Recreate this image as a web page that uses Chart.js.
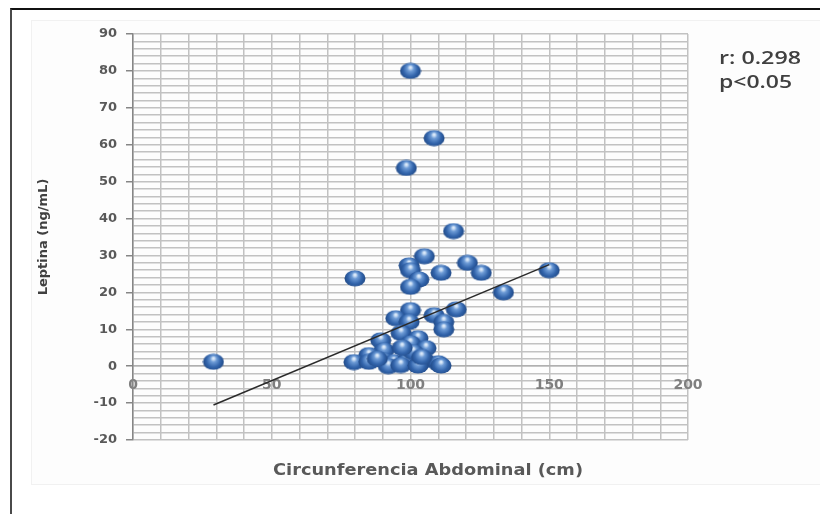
<!DOCTYPE html>
<html>
<head>
<meta charset="utf-8">
<title>Leptina vs circunferencia abdominal</title>
<script src="https://cdn.jsdelivr.net/npm/chart.js@4.4.1/dist/chart.umd.min.js"></script>
<style>
    html, body { margin: 0; padding: 0; background: #fff; }
    #wrap { position: relative; width: 820px; height: 514px; overflow: hidden; }
    #frame { position: absolute; left: 10px; top: 8px; width: 830px; height: 540px;
             border-left: 2px solid #4a4a4a; border-top: 2px solid #111; }
    #panel { position: absolute; left: 31px; top: 20px; width: 800px; height: 463px;
             background: #fdfdfd; border: 1px solid #f1f1f1; }
    #chart { position: absolute; left: 0; top: 0; }
</style>
</head>
<body>
<div id="wrap">
    <div id="frame"></div>
    <div id="panel"></div>
    <canvas id="chart" width="820" height="514"></canvas>
</div>
<script>
// Circunferencia abdominal (cm) and leptina (ng/mL), one pair per patient
const circAbdominal = [29, 100, 108.5, 98.5, 115.5, 105, 99.5, 100, 80, 120.5,
                       111, 125.5, 150, 103, 100, 133.5, 100, 116.5, 94.7, 99.5,
                       108.5, 112, 112, 96.6, 89.3, 102.7, 100, 105.6, 90.4, 85,
                       79.6, 85, 90.4, 94, 99, 105, 110, 92, 96.5, 102.7,
                       111, 101, 97, 104, 88];
const leptina = [1.2, 80, 61.8, 53.7, 36.6, 29.8, 27.3, 26, 23.8, 28,
                 25.3, 25.3, 26, 23.5, 21.5, 20, 15.2, 15.4, 13, 12,
                 13.8, 12, 10, 9, 7, 7.6, 6.2, 4.9, 4.3, 3,
                 1.1, 1.2, 1.6, 1.1, 1.8, 1.6, 0.8, 0, 0.3, 0.2,
                 0.2, 3.8, 5, 2.5, 2];

// linear trend line, end points
const trendX = [29, 150];
const trendY = [-10.5, 27.5];

// axes
const xMin = 0, xMax = 200, xStep = 10, xLabelEvery = 50;
const yMin = -20, yMax = 90, yStep = 2, yLabelEvery = 10;

const corrText = ["r: 0.298", "p<0.05"];

// blue "3D" bubble used as point style
function makeBubble() {
    const c = document.createElement("canvas");
    c.width = 22; c.height = 17;
    const g = c.getContext("2d");
    const grad = g.createRadialGradient(11, 5, 1, 11, 8.5, 12);
    grad.addColorStop(0, "#d9e8f9");
    grad.addColorStop(0.2, "#6d9bd6");
    grad.addColorStop(0.55, "#3264ab");
    grad.addColorStop(1, "#1a3f77");
    g.fillStyle = grad;
    g.beginPath();
    g.ellipse(11, 8.5, 10.5, 8, 0, 0, Math.PI * 2);
    g.fill();
    return c;
}

// text squeezed/stretched to a given width
function drawFitText(ctx, text, x, y, width, font, color, align) {
    ctx.save();
    ctx.font = font;
    ctx.fillStyle = color;
    ctx.textBaseline = "middle";
    ctx.textAlign = "left";
    const w = ctx.measureText(text).width;
    const left = align === "center" ? x - width / 2 : x;
    ctx.translate(left, y);
    ctx.scale(width / w, 1);
    ctx.fillText(text, 0, 0);
    ctx.restore();
}

const extraText = {
    id: "extraText",
    afterDraw(chart) {
        const ctx = chart.ctx;
        drawFitText(ctx, "Circunferencia Abdominal (cm)", 428, 471, 310,
            "bold 15px 'DejaVu Sans'", "#595959", "center");
        drawFitText(ctx, corrText[0], 719, 59, 82, "600 18px 'Open Sans'", "#404040", "left");
        drawFitText(ctx, corrText[1], 719, 83, 73, "600 18px 'Open Sans'", "#404040", "left");
    }
};

const points = circAbdominal.map((x, i) => ({ x: x, y: leptina[i] }));
const trend = trendX.map((x, i) => ({ x: x, y: trendY[i] }));

const ctx = document.getElementById("chart").getContext("2d");
new Chart(ctx, {
    type: "scatter",
    data: {
        datasets: [
            {
                type: "line",
                label: "Tendencia",
                data: trend,
                borderColor: "#2b2b2b",
                borderWidth: 1.5,
                pointRadius: 0,
                fill: false
            },
            {
                label: "Leptina",
                data: points,
                pointStyle: makeBubble(),
                pointRadius: 8
            }
        ]
    },
    options: {
        responsive: false,
        animation: false,
        layout: { padding: { left: 30, right: 132, top: 34, bottom: 74 } },
        plugins: {
            legend: { display: false },
            tooltip: { enabled: false }
        },
        scales: {
            x: {
                type: "linear",
                position: { y: 0 },
                min: xMin,
                max: xMax,
                afterFit: s => { s.height = 0; },
                ticks: {
                    stepSize: xStep,
                    autoSkip: false,
                    maxRotation: 0,
                    padding: 11,
                    color: "#7f7f7f",
                    font: { family: "DejaVu Sans", weight: "bold", size: 14 },
                    callback: v => (Math.round(v) % xLabelEvery === 0 ? Math.round(v) : "")
                },
                grid: { color: "#c2c2c2", lineWidth: 1.5, drawTicks: false },
                border: { color: "#b0b0b0", width: 1.5 }
            },
            y: {
                type: "linear",
                min: yMin,
                max: yMax,
                afterFit: s => { s.width = 103; },
                ticks: {
                    stepSize: yStep,
                    autoSkip: false,
                    padding: 9,
                    color: "#595959",
                    font: { family: "DejaVu Sans", weight: "bold", size: 13 },
                    callback: v => (Math.round(v) % yLabelEvery === 0 ? Math.round(v) : "")
                },
                grid: {
                    color: "#c2c2c2",
                    lineWidth: 1.5,
                    tickLength: 7,
                    tickColor: c => (Math.round(c.tick.value) % yLabelEvery === 0 ? "#868686" : "rgba(0,0,0,0)")
                },
                border: { color: "#868686", width: 1.5 },
                title: {
                    display: true,
                    text: "Leptina (ng/mL)",
                    color: "#404040",
                    font: { family: "DejaVu Sans", weight: "bold", size: 13 },
                    padding: { top: 6, bottom: 0 }
                }
            }
        }
    },
    plugins: [extraText]
});
</script>
</body>
</html>
